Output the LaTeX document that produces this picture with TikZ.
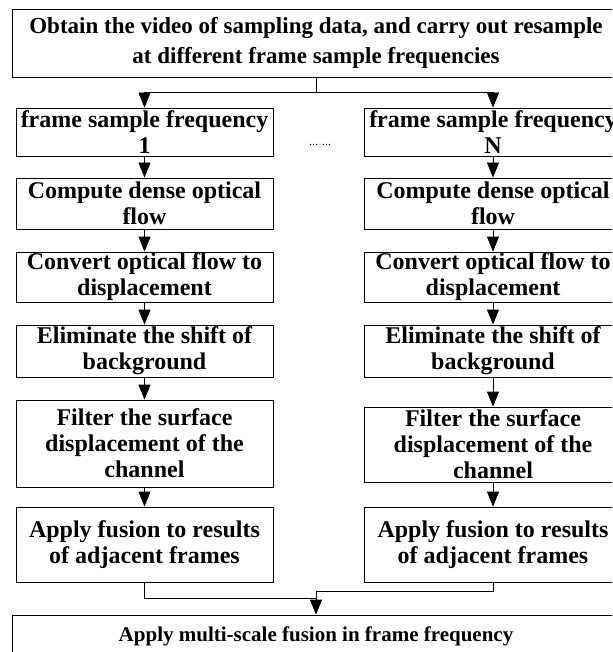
\documentclass[tikz,border=0pt]{standalone}
\usepackage{fontspec}
\setmainfont{Liberation Serif}
\usetikzlibrary{arrows.meta}
\begin{document}
\begin{tikzpicture}[x=1pt,y=-1pt]

          \tikzstyle{stepbox} = [draw, line width=0.8pt, align=center, inner sep=0pt,
                                 font=\bfseries\fontsize{24}{26}\selectfont];
          \tikzstyle{colbox} = [stepbox, minimum width=257pt];
          \tikzstyle{widebox} = [stepbox, minimum width=608pt];
          \tikzstyle{arr} = [line width=0.8pt, -{Triangle[length=15pt,width=12pt]}];

          \useasboundingbox (0,0) rectangle (612,652);
          \clip (0,0) rectangle (612,652);

          \node[widebox, minimum height=68.5pt, font=\bfseries\fontsize{23}{30}\selectfont] (top) at (316,43.25)
            {Obtain the video of sampling data, and carry out resample\\at different frame sample frequencies};

          \node[colbox, minimum height=48pt] (l1) at (144.5,132) {frame sample frequency\\1};
          \node[colbox, minimum height=51pt] (l2) at (144.5,203.5) {Compute dense optical\\flow};
          \node[colbox, minimum height=50pt] (l3) at (144.5,277) {Convert optical flow to\\displacement};
          \node[colbox, minimum height=52pt] (l4) at (144.5,351) {Eliminate the shift of\\background};
          \node[colbox, minimum height=87pt] (l5) at (144.5,443.5) {Filter the surface\\displacement of the\\channel};
          \node[colbox, minimum height=75pt] (l6) at (144.5,544.5) {Apply fusion to results\\of adjacent frames};

          \node[colbox, minimum height=48pt] (r1) at (493,132) {frame sample frequency\\N};
          \node[colbox, minimum height=51pt] (r2) at (493,203.5) {Compute dense optical\\flow};
          \node[colbox, minimum height=50pt] (r3) at (493,277) {Convert optical flow to\\displacement};
          \node[colbox, minimum height=52pt] (r4) at (493,351) {Eliminate the shift of\\background};
          \node[colbox, minimum height=75pt] (r5) at (493,444.5) {Filter the surface\\displacement of the\\channel};
          \node[colbox, minimum height=75pt] (r6) at (493,544.5) {Apply fusion to results\\of adjacent frames};

          \node (dots) at (320,145) {\fontsize{12}{14}\selectfont ... ...};

          \node[widebox, minimum height=42pt, font=\bfseries\fontsize{21}{24}\selectfont] (bot) at (316,636)
            {Apply multi-scale fusion in frame frequency};

          \coordinate (split) at (316,92.5);
          \coordinate (merge) at (316,591);
          \coordinate (mergeL) at (316,598);

          \draw[line width=0.8pt] (top.south) -- (split);
          \draw[arr] (split) -| (l1.north);
          \draw[arr] (split) -| (r1.north);

          \draw[arr] (l1) -- (l2);
          \draw[arr] (l2) -- (l3);
          \draw[arr] (l3) -- (l4);
          \draw[arr] (l4) -- (l5);
          \draw[arr] (l5) -- (l6);

          \draw[arr] (r1) -- (r2);
          \draw[arr] (r2) -- (r3);
          \draw[arr] (r3) -- (r4);
          \draw[arr] (r4) -- (r5);
          \draw[arr] (r5) -- (r6);

          \draw[line width=0.8pt] (l6.south) |- (mergeL);
          \draw[arr] (r6.south) |- (merge) -- (bot.north);
        \end{tikzpicture}
\end{document}
